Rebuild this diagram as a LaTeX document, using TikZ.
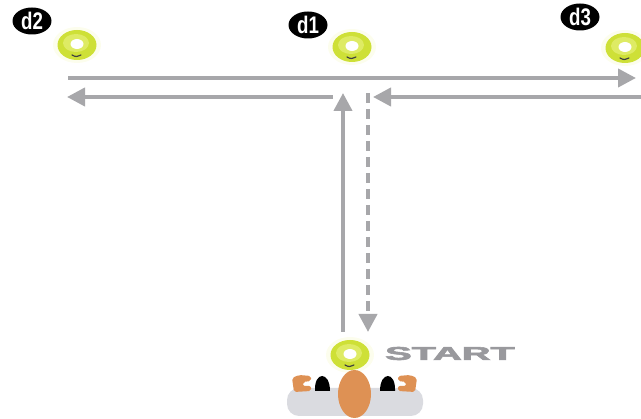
\documentclass[tikz,border=0pt]{standalone}
\usepackage{fontspec}
\newfontfamily\labelfont{Liberation Sans}
\newfontfamily\startfont[FakeBold=3]{Liberation Sans}
\usetikzlibrary{arrows.meta,shapes.geometric,calc}

\newlength{\du}
\setlength{\du}{1pt}

\definecolor{runline}{rgb}{0.655, 0.655, 0.667}
\definecolor{conegreen}{rgb}{0.808, 0.878, 0.216}
\definecolor{conelight}{rgb}{0.871, 0.922, 0.392}
\definecolor{coneglow}{rgb}{0.988, 0.992, 0.930}
\definecolor{skin}{rgb}{0.871, 0.569, 0.329}
\definecolor{shirt}{rgb}{0.855, 0.859, 0.878}
\definecolor{starttext}{rgb}{0.600, 0.600, 0.615}

\tikzset{
  tag/.style={ellipse, fill=black, text=white, inner sep=0pt,
    minimum width=39\du, minimum height=27\du,
    font=\labelfont\bfseries\fontsize{24}{24}\selectfont},
  cone/.style={ellipse, fill=conegreen, inner sep=0pt,
    minimum width=39\du, minimum height=30\du},
  run/.style={draw=runline, line width=4pt,
    -{Triangle[length=18pt,width=18pt]}},
  back/.style={run, dash pattern=on 10pt off 6pt},
}

% a flat cone with its hole and the little swoosh
\newcommand{\flatcone}[3]{%
  \fill[coneglow] (#2,#3) ellipse [x radius=24\du, y radius=18\du];
  \node[cone] (#1) at (#2,#3) {};
  \fill[conelight] ($(#1.center)+(-1,-2)$) ellipse [x radius=13\du, y radius=9\du];
  \fill[white] ($(#1.center)+(0,-1)$) ellipse [x radius=6.5\du, y radius=5\du];
  \draw[black!75, line width=1.2pt, line cap=round]
    ($(#1.center)+(-5,10)$) .. controls ($(#1.center)+(-1,12)$) .. ($(#1.center)+(4,10)$);
}

\begin{document}
\begin{tikzpicture}[x=\du, y=-\du]
\useasboundingbox (0,0) rectangle (641,419);

% cones
\flatcone{c2}{77}{45}
\flatcone{c1}{352}{47}
\flatcone{c3}{625}{48}
\flatcone{c0}{350}{355}

% cone labels
\node[tag] (d2) at (32,21) {\scalebox{0.78}[1]{d2}};
\node[tag] (d1) at (308,25) {\scalebox{0.78}[1]{d1}};
\node[tag] (d3) at (580,17) {\scalebox{0.78}[1]{d3}};

\node[anchor=west, inner sep=0pt, text=starttext,
  font=\startfont\bfseries\fontsize{18.5}{18.5}\selectfont] (start) at (385,353.5)
  {\scalebox{2.15}[1]{START}};

% run lines
\coordinate (upfoot) at (343,332);
\coordinate (uptip) at (343,93);
\coordinate (backtop) at (368,93);
\coordinate (backtip) at (368,332);
\coordinate (topleft) at (68,78);
\coordinate (topright) at (636,78);
\coordinate (midleft) at (333,97);
\coordinate (lefttip) at (67,97);
\coordinate (midright) at (641,97);
\coordinate (righttip) at (373,97);

\draw[run] (upfoot) -- (uptip);
\draw[back] (backtop) -- (backtip);
\draw[run] (topleft) -- (topright);
\draw[run] (midleft) -- (lefttip);
\draw[run] (midright) -- (righttip);

% player seen from above
\fill[shirt, rounded corners=12pt] (287,388) -- (423,388) -- (423,416) -- (287,416) -- cycle;
\fill[skin, rounded corners=2pt] (292,378) -- (299,375) -- (311,376) -- (311,381) -- (303,382)
  -- (303,386) -- (311,386) -- (311,391) -- (294,392) -- cycle;
\fill[skin, rounded corners=2pt] (417,378) -- (410,375) -- (398,376) -- (398,381) -- (406,382)
  -- (406,386) -- (398,386) -- (398,391) -- (415,392) -- cycle;
\fill[black] (315,391) .. controls (314,371) and (330,371) .. (330,391) -- cycle;
\fill[black] (380,391) .. controls (380,371) and (396,371) .. (395,391) -- cycle;
\fill[skin] (354.5,394) ellipse [x radius=16.5\du, y radius=24\du];
\end{tikzpicture}
\end{document}
